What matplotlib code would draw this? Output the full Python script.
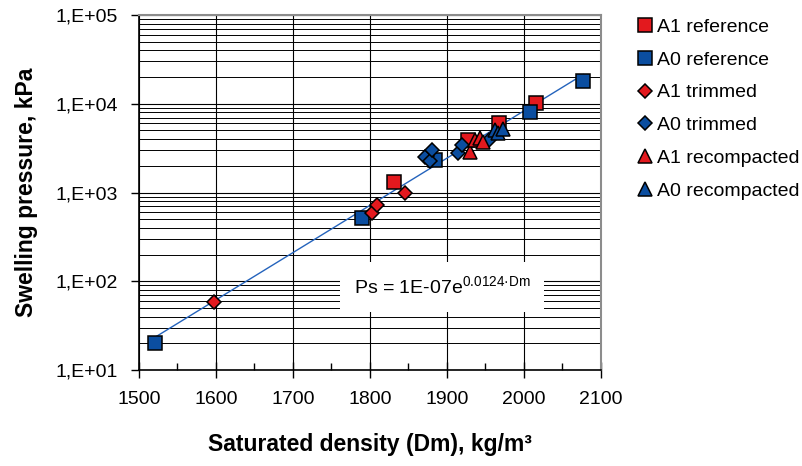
import numpy as np
import matplotlib.pyplot as plt
from matplotlib.ticker import FixedLocator, FuncFormatter, LogLocator, NullFormatter

plt.rcParams['font.family'] = ['Liberation Sans', 'DejaVu Sans']

# === Data (density kg/m3, swelling pressure kPa)
a1_ref_x = [1831, 1927, 1968, 2016]
a1_ref_y = [1330, 3900, 6000, 10200]
a0_ref_x = [1521, 1789, 1884, 2008, 2077]
a0_ref_y = [20, 510, 2300, 8100, 18200]
a1_trim_x = [1597, 1802, 1809, 1846, 1874]
a1_trim_y = [59, 585, 725, 1000, 2600]
a0_trim_x = [1871, 1878, 1880, 1914, 1919, 1955]
a0_trim_y = [2540, 2240, 3000, 2770, 3440, 3900]
a1_rec_x = [1930, 1936, 1943, 1947]
a1_rec_y = [2880, 3900, 4100, 3700]
a0_rec_x = [1962, 1966, 1973]
a0_rec_y = [5080, 4700, 5260]

red = '#E3191E'
blue = '#0B4EA0'

fig = plt.figure(figsize=(8.03, 4.66), dpi=100)
ax = fig.add_axes([0.1731, 0.206, 0.5753, 0.7618])

# === Exponential trend line through all points
all_x = np.array(a1_ref_x + a0_ref_x + a1_trim_x + a0_trim_x + a1_rec_x + a0_rec_x, float)
all_y = np.array(a1_ref_y + a0_ref_y + a1_trim_y + a0_trim_y + a1_rec_y + a0_rec_y, float)
b, ln_a = np.polyfit(all_x, np.log(all_y), 1)
xt = np.linspace(all_x.min(), all_x.max(), 100)
ax.plot(xt, np.exp(ln_a + b * xt), color='#2463BC', lw=1.0, zorder=3)

mk = dict(ls='none', mec='black', mew=1.1, zorder=4)
ax.plot(a1_ref_x, a1_ref_y, marker='s', ms=10.5, mfc=red, label='A1 reference', **mk)
ax.plot(a0_ref_x, a0_ref_y, marker='s', ms=10.5, mfc=blue, label='A0 reference', **mk)
ax.plot(a1_trim_x, a1_trim_y, marker='D', ms=7, mfc=red, label='A1 trimmed', **mk)
ax.plot(a0_trim_x, a0_trim_y, marker='D', ms=7, mfc=blue, label='A0 trimmed', **mk)
ax.plot(a1_rec_x, a1_rec_y, marker='^', ms=10, mfc=red, label='A1 recompacted', **mk)
ax.plot(a0_rec_x, a0_rec_y, marker='^', ms=10, mfc=blue, label='A0 recompacted', **mk)

ax.set_yscale('log')
ax.set_xlim(1500, 2100)
ax.set_ylim(10, 1e5)

ax.xaxis.set_major_locator(FixedLocator(np.arange(1500, 2101, 100)))
ax.xaxis.set_minor_locator(FixedLocator(np.arange(1550, 2100, 100)))
ax.yaxis.set_major_locator(LogLocator(base=10))
ax.yaxis.set_minor_locator(LogLocator(base=10, subs=np.arange(2, 10)))
ax.yaxis.set_major_formatter(FuncFormatter(lambda v, p: '1,E+%02d' % int(round(np.log10(v)))))
ax.yaxis.set_minor_formatter(NullFormatter())

ax.grid(True, which='major', color='black', lw=0.8)
ax.grid(True, which='minor', axis='y', color='black', lw=0.7)
ax.set_axisbelow(True)

ax.tick_params(axis='x', which='major', direction='inout', length=12, width=1, labelsize=14, pad=9)
ax.tick_params(axis='x', which='minor', direction='in', length=5, width=1)
ax.tick_params(axis='y', which='major', direction='out', length=6, width=1, labelsize=14, pad=9)
ax.tick_params(axis='y', which='minor', length=0)

for s in ['top', 'right']:
    ax.spines[s].set_color('#8C8C8C')
    ax.spines[s].set_linewidth(1.5)
for s in ['left', 'bottom']:
    ax.spines[s].set_linewidth(1.2)

ax.set_xlabel('Saturated density (Dm), kg/m\u00b3', fontsize=16.5, fontweight='bold', labelpad=18)
ax.set_ylabel('Swelling pressure, kPa', fontsize=16.5, fontweight='bold', labelpad=13)

ax.text(1894, 86, 'Ps = 1E-07e$^{\\mathregular{0.0124\u00b7Dm}}$', fontsize=14, ha='center', va='center',
        bbox=dict(facecolor='white', edgecolor='none', boxstyle='square,pad=0.7'), zorder=5)

fig.legend(loc='upper left', bbox_to_anchor=(0.793, 0.961), frameon=False, fontsize=14,
           handlelength=0.8, handletextpad=0.25, labelspacing=0.78, borderpad=0, borderaxespad=0)

fig.savefig('out.png', dpi=100)
